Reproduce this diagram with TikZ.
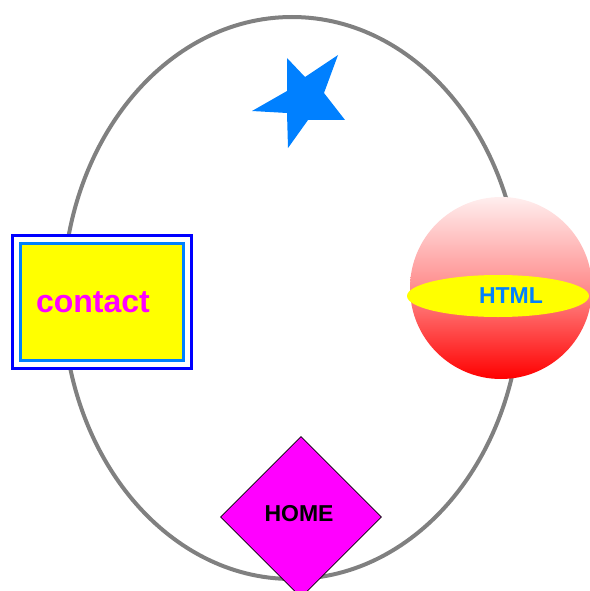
\documentclass[tikz,border=0pt]{standalone}
\usepackage{fontspec}
\setmainfont{Liberation Sans}
\usetikzlibrary{shapes.geometric}
\definecolor{ringgray}{RGB}{128,128,128}
\definecolor{skyblue}{RGB}{0,128,255}
\definecolor{pureblue}{RGB}{0,0,255}
\definecolor{magentafill}{RGB}{255,0,255}
\definecolor{brightyellow}{RGB}{255,255,0}
\definecolor{purered}{RGB}{255,0,0}
\definecolor{palepink}{RGB}{255,238,238}
\tikzset{
  ring/.style={draw=ringgray, line width=4},
  labeltext/.style={font=\bfseries, inner sep=0, anchor=base},
}
\begin{document}
\begin{tikzpicture}[x=1pt,y=-1pt]
\useasboundingbox (0,0) rectangle (589,591);
% gray orbit
\draw[ring] (292,298) ellipse [x radius=229, y radius=281];
% star
\fill[skyblue] (287,58) -- (305,77) -- (338,55) -- (324,93) -- (345,120)
  -- (308,120) -- (288,148) -- (287,113) -- (252,111) -- (287,91) -- cycle;
% contact box
\node[draw=pureblue, fill=white, line width=3, minimum width=179, minimum height=133, inner sep=0] (frame) at (102,302) {};
\node[draw=skyblue, fill=brightyellow, line width=3, minimum width=163, minimum height=117, inner sep=0] (contactbox) at (102,302) {};
\node[labeltext, text=magentafill, font=\fontsize{32}{36}\selectfont\bfseries] (contact) at (93,312) {contact};
% HTML ball
\node[circle, minimum size=182, inner sep=0, top color=palepink, bottom color=purered, middle color=purered!45!white] (ball) at (501,288) {};
\node[ellipse, fill=brightyellow, minimum width=182, minimum height=42, inner sep=0] (band) at (498,296) {};
\node[labeltext, text=skyblue, font=\fontsize{23}{27}\selectfont\bfseries] (html) at (511,303.5) {HTML};
% HOME diamond
\node[diamond, draw=black, fill=magentafill, line width=0.8, minimum width=161, minimum height=161, inner sep=0] (diamondbox) at (301,517) {};
\node[labeltext, text=black, font=\fontsize{23}{27}\selectfont\bfseries] (home) at (299,521.7) {HOME};
\end{tikzpicture}
\end{document}
